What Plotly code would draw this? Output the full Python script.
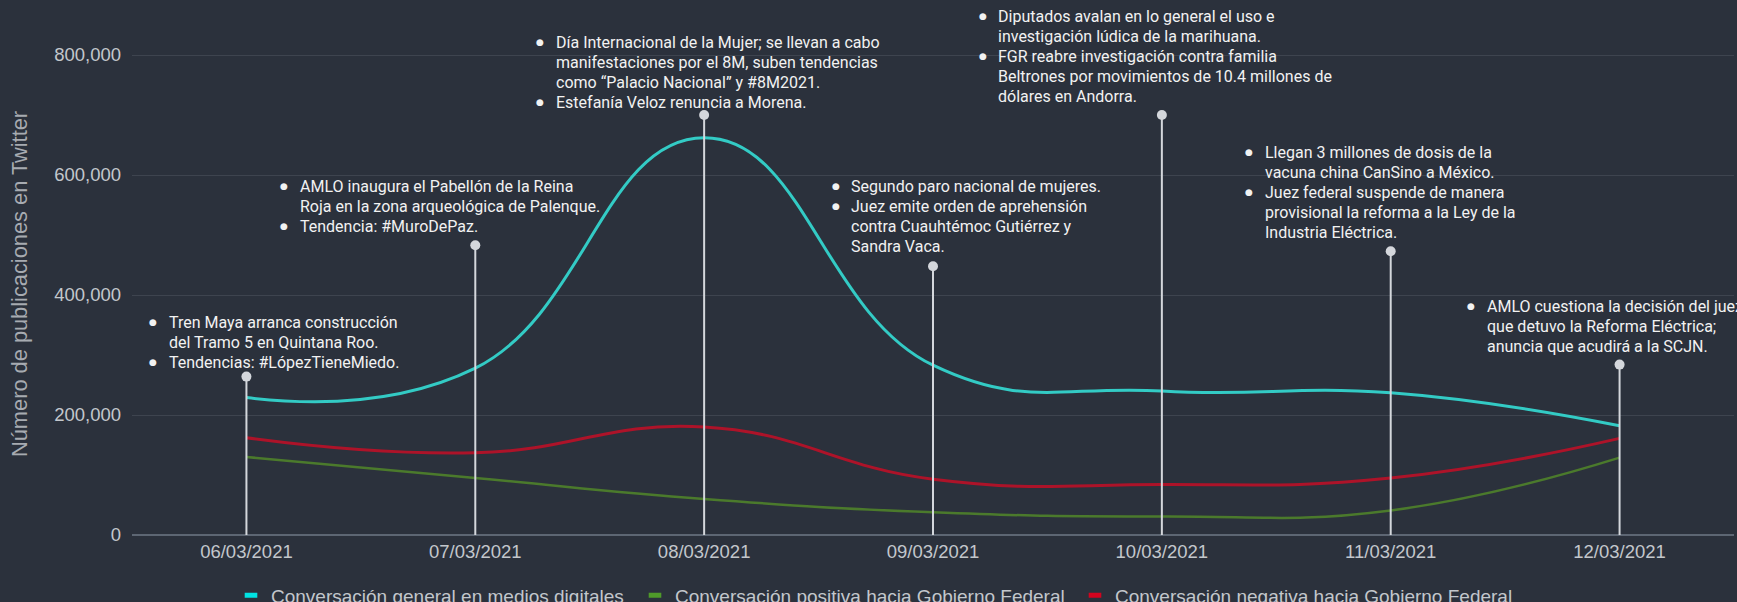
import plotly.graph_objects as go

# ---------------- data ----------------
categories = ["06/03/2021", "07/03/2021", "08/03/2021", "09/03/2021",
              "10/03/2021", "11/03/2021", "12/03/2021"]
general = [229000, 278000, 662000, 283000, 240000, 237000, 182000]
positiva = [130000, 95000, 60000, 38000, 31000, 41000, 129000]
negativa = [162000, 137000, 180000, 93000, 84000, 95000, 161000]
event_heights = [264000, 483000, 700000, 448000, 700000, 473000, 284000]

series_names = ["Conversación general en medios digitales",
                "Conversación positiva hacia Gobierno Federal",
                "Conversación negativa hacia Gobierno Federal"]
y_title = "Número de publicaciones en Twitter"

events = [
    [["Tren Maya arranca construcción", "del Tramo 5 en Quintana Roo."],
     ["Tendencias: #LópezTieneMiedo."]],
    [["AMLO inaugura el Pabellón de la Reina", "Roja en la zona arqueológica de Palenque."],
     ["Tendencia: #MuroDePaz."]],
    [["Día Internacional de la Mujer; se llevan a cabo", "manifestaciones por el 8M, suben tendencias",
      "como “Palacio Nacional” y #8M2021."],
     ["Estefanía Veloz renuncia a Morena."]],
    [["Segundo paro nacional de mujeres."],
     ["Juez emite orden de aprehensión", "contra Cuauhtémoc Gutiérrez y", "Sandra Vaca."]],
    [["Diputados avalan en lo general el uso e", "investigación lúdica de la marihuana."],
     ["FGR reabre investigación contra familia", "Beltrones por movimientos de 10.4 millones de",
      "dólares en Andorra."]],
    [["Llegan 3 millones de dosis de la", "vacuna china CanSino a México."],
     ["Juez federal suspende de manera", "provisional la reforma a la Ley de la",
      "Industria Eléctrica."]],
    [["AMLO cuestiona la decisión del juez", "que detuvo la Reforma Eléctrica;",
      "anuncia que acudirá a la SCJN."]],
]

# ---------------- layout / style ----------------
W, H = 1737, 602
ML, MR, MT, MB = 132, 3, 10, 67
Y_MAX = 875000
BG = "#2b313c"
line_colors = ["#33cbc5", "#4b7a2c", "#ad1329"]
legend_colors = ["#00e3e3", "#4f9a2a", "#d3041f"]
EVENT_COLOR = "#d4d7dc"
LEGEND_LEFTS = [231, 635, 1075]   # pixel x of each legend box

# text block placement (pixels): bullet centre x, text left x, first line centre y
event_boxes = [
    (153, 168, 322), (284, 299, 186), (540, 555, 42), (836, 850, 186),
    (983, 997, 16), (1249, 1264, 152), (1471, 1486, 306),
]
LINE_H = 20
TITLE_POS = (19, 284)   # pixel centre of the rotated y-axis title


def px2paper(px):
    return (px - ML) / (W - ML - MR)


def py2paper(py):
    return (H - MB - py) / (H - MB - MT)


def py2val(py):
    return py2paper(py) * Y_MAX


fig = go.Figure()

traces = [general, positiva, negativa]
for name, vals, col, w in zip(series_names, traces, line_colors, [3, 2.5, 3]):
    fig.add_trace(go.Scatter(
        x=categories, y=vals, mode="lines", name=name,
        line=dict(color=col, width=w, shape="spline", smoothing=1.3),
        showlegend=False, hoverinfo="skip"))

# event stems
for cat, h in zip(categories, event_heights):
    fig.add_trace(go.Scatter(
        x=[cat, cat], y=[0, h], mode="lines",
        line=dict(color=EVENT_COLOR, width=2),
        showlegend=False, hoverinfo="skip"))
fig.add_trace(go.Scatter(
    x=categories, y=event_heights, mode="markers",
    marker=dict(color=EVENT_COLOR, size=10),
    showlegend=False, hoverinfo="skip"))

# legend entries (one legend box per series so each can be placed)
legend_ids = ["legend", "legend2", "legend3"]
for name, col, lid in zip(series_names, legend_colors, legend_ids):
    fig.add_trace(go.Scatter(
        x=[None], y=[None], mode="markers", name=name, legend=lid,
        marker=dict(symbol="line-ew", size=9, color=col,
                    line=dict(color=col, width=6))))

annotations = []
TEXT_FONT = dict(family="Roboto", size=16, color="#f2f2f2")
BULLET_FONT = dict(family="DejaVu Sans", size=9, color="#f2f2f2")
for items, (bx, tx, y0) in zip(events, event_boxes):
    k = 0
    for item in items:
        annotations.append(dict(
            text="●", x=px2paper(bx), xref="paper", xanchor="center",
            y=py2val(y0 + k * LINE_H), yref="y", yanchor="middle",
            showarrow=False, font=BULLET_FONT, borderpad=0))
        for line in item:
            annotations.append(dict(
                text=line, x=px2paper(tx), xref="paper", xanchor="left",
                y=py2val(y0 + k * LINE_H), yref="y", yanchor="middle",
                showarrow=False, font=TEXT_FONT, borderpad=0))
            k += 1

# y-axis title
annotations.append(dict(
    text=y_title, textangle=-90, x=px2paper(TITLE_POS[0]), xref="paper",
    xanchor="center", y=py2paper(TITLE_POS[1]), yref="paper", yanchor="middle",
    showarrow=False, font=dict(family="Liberation Sans, Arial", size=21.8,
                               color="#a7abb1")))

legend_common = dict(orientation="h", xanchor="left", y=-0.115, yanchor="middle",
                     font=dict(size=19, color="#c3c7cc"),
                     bgcolor="rgba(0,0,0,0)")

fig.update_layout(
    width=W, height=H,
    margin=dict(l=ML, r=MR, t=MT, b=MB, autoexpand=False),
    paper_bgcolor=BG, plot_bgcolor=BG,
    font=dict(family="Liberation Sans, Arial", color="#c3c7cc"),
    showlegend=True,
    legend=dict(x=px2paper(LEGEND_LEFTS[0]), **legend_common),
    legend2=dict(x=px2paper(LEGEND_LEFTS[1]), **legend_common),
    legend3=dict(x=px2paper(LEGEND_LEFTS[2]), **legend_common),
    annotations=annotations,
    xaxis=dict(type="category", range=[-0.5, 6.5], showgrid=False,
               zeroline=False, showline=False, ticks="",
               tickfont=dict(size=18.5, color="#c3c7cc"),
               ticklabelstandoff=3, fixedrange=True),
    yaxis=dict(range=[0, Y_MAX], tickvals=[0, 200000, 400000, 600000, 800000],
               tickformat=",", showgrid=True, gridcolor="#3e444f", gridwidth=1,
               zeroline=True, zerolinecolor="#5d6673", zerolinewidth=2,
               showline=False, ticks="", ticklabelstandoff=10,
               tickfont=dict(size=18.5, color="#c3c7cc"),
               fixedrange=True),
)

fig.write_html("out.html", config={"displayModeBar": False},
               post_script="document.body.style.margin='0';document.body.style.background='%s';" % BG)
